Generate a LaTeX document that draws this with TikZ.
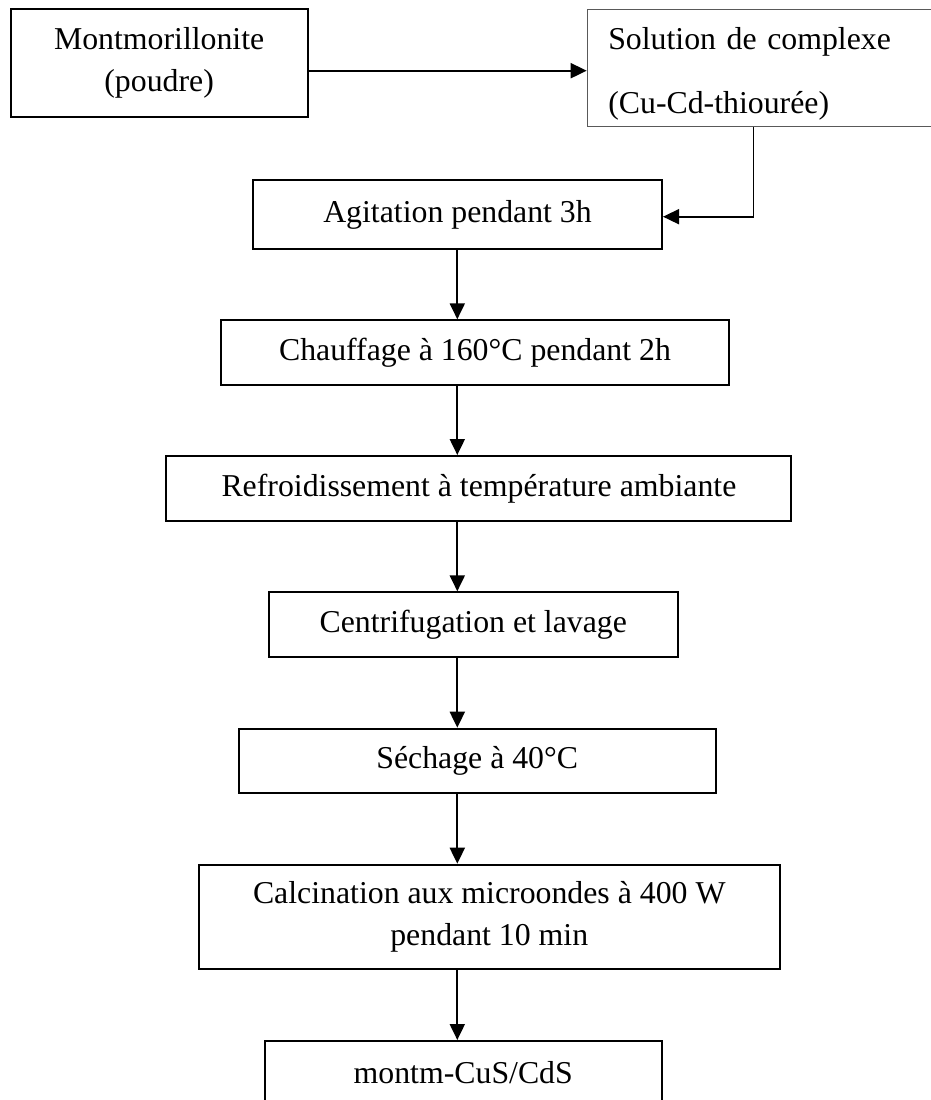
\documentclass[tikz,border=0pt]{standalone}
\usepackage{fontspec}
\setmainfont{Liberation Serif}
\usetikzlibrary{arrows.meta}
\begin{document}
\begin{tikzpicture}[x=1pt,y=-1pt,
  box/.style={draw=black, line width=2pt, rectangle, inner sep=0pt, align=center,
    font=\fontsize{31.8}{42.5}\selectfont},
  arr/.style={line width=2pt, -{Triangle[length=16pt,width=15pt]}}]
\useasboundingbox (0,0) rectangle (931,1100);
\clip (0,0) rectangle (931,1100);
\fill[white] (0,0) rectangle (931,1100);
% boxes
\node[box, minimum width=296.9pt, minimum height=107.7pt] (mont) at (159.15,62.85) {Montmorillonite\\(poudre)};
\node[draw=black!65, line width=1.2pt, rectangle, anchor=west, minimum height=117.4pt,
      inner ysep=0pt, inner xsep=21pt, text width=310pt, align=left,
      font=\fontsize{31.8}{64}\selectfont] (sol) at (586.7,68) {\rule{0pt}{34pt}Solution de complexe\\(Cu-Cd-thiourée)};
\node[box, minimum width=409pt, minimum height=68.2pt] (agit) at (457.5,214.4) {Agitation pendant 3h};
\node[box, minimum width=508pt, minimum height=64.4pt] (chauf) at (475,352.5) {Chauffage à 160°C pendant 2h};
\node[box, minimum width=625pt, minimum height=64.7pt] (refr) at (478.9,488.35) {Refroidissement à température ambiante};
\node[box, minimum width=409.5pt, minimum height=64.7pt] (centr) at (473.25,624.65) {Centrifugation et lavage};
\node[box, minimum width=476.8pt, minimum height=64.3pt] (sech) at (477.2,760.85) {Séchage à 40°C};
\node[box, minimum width=581.5pt, minimum height=104.3pt] (calc) at (489.25,916.85) {Calcination aux microondes à 400 W\\pendant 10 min};
\node[box, minimum width=396.5pt, minimum height=64pt] (montm) at (463.25,1073) {montm-CuS/CdS};
% guide coordinates
\coordinate (col) at (457.3,0);
\coordinate (ay) at (0,70.7);
\coordinate (ey) at (753.3,216.7);
% connectors
\draw[arr] (mont.east |- ay) -- (sol.west |- ay);
\draw[arr, line width=1.6pt] (sol.south -| ey) |- (agit.east |- ey);
\draw[arr] (agit.south -| col) -- (chauf.north -| col);
\draw[arr] (chauf.south -| col) -- (refr.north -| col);
\draw[arr] (refr.south -| col) -- (centr.north -| col);
\draw[arr] (centr.south -| col) -- (sech.north -| col);
\draw[arr] (sech.south -| col) -- (calc.north -| col);
\draw[arr] (calc.south -| col) -- (montm.north -| col);
\end{tikzpicture}
\end{document}
